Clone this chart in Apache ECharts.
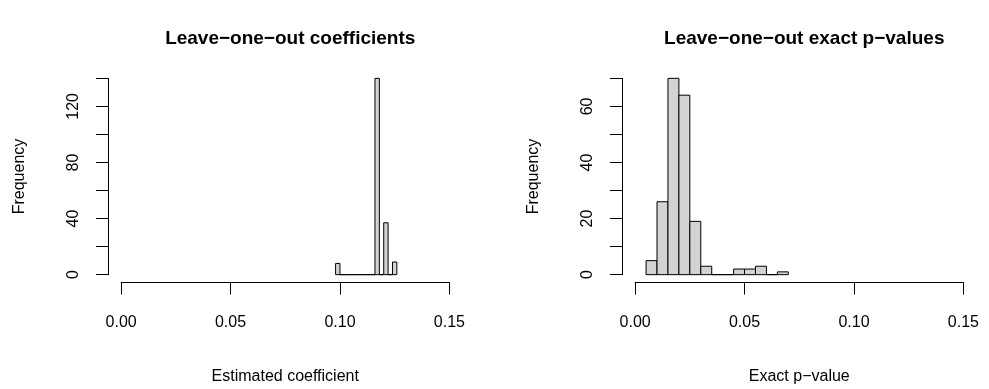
<!DOCTYPE html>
<html>
<head>
<meta charset="utf-8">
<script src="https://cdn.jsdelivr.net/npm/echarts@6/dist/echarts.min.js"></script>
<style>html,body{margin:0;padding:0;background:#fff}#c{width:989px;height:389px}</style>
</head>
<body>
<div id="c"></div>
<script>
// ---- data ----
const leftBreaks = [0.098,0.100,0.102,0.104,0.106,0.108,0.110,0.112,0.114,0.116,0.118,0.120,0.122,0.124,0.126];
const leftCounts = [8,0,0,0,0,0,0,0,0,140,0,37,0,9];
const rightBreaks = [0.005,0.010,0.015,0.020,0.025,0.030,0.035,0.040,0.045,0.050,0.055,0.060,0.065,0.070];
const rightCounts = [5,26,70,64,19,3,0,0,2,2,3,0,1];
const xTicks = [0, 0.05, 0.10, 0.15];
const leftTitle = 'Leave\u2212one\u2212out coefficients';
const rightTitle = 'Leave\u2212one\u2212out exact p\u2212values';
const leftXLabel = 'Estimated coefficient';
const rightXLabel = 'Exact p\u2212value';
const yLabel = 'Frequency';
const leftYMax = 140, leftYStep = 20, leftYLabelStep = 40;
const rightYMax = 70, rightYStep = 10, rightYLabelStep = 20;

function bins(breaks, counts){
  return counts.map((c,i)=>[breaks[i], breaks[i+1], c]);
}
const FONT = '"Liberation Sans", Arial, Helvetica, sans-serif';
const BLACK = '#000';

function renderItem(params, api){
  const p0 = api.coord([api.value(0), api.value(2)]);
  const p1 = api.coord([api.value(1), 0]);
  return {
    type:'rect',
    shape:{x:p0[0], y:p0[1], width:p1[0]-p0[0], height:p1[1]-p0[1]},
    style:{fill:'#D3D3D3', stroke:BLACK, lineWidth:1}
  };
}

// layout (pixels)
const plotW = 354.5, plotTop = 70.5, plotBottom = 282.5;
const pad = 0.006; // R's 4% extension of 0..0.15
const xSpanPx = plotW * 0.15 / (0.15 + 2*pad);
const padPx = plotW * pad / (0.15 + 2*pad);
const panels = [
  {left:108, breaks:leftBreaks, counts:leftCounts, ymax:leftYMax, ystep:leftYStep, ylab:leftYLabelStep, title:leftTitle, xlab:leftXLabel},
  {left:622, breaks:rightBreaks, counts:rightCounts, ymax:rightYMax, ystep:rightYStep, ylab:rightYLabelStep, title:rightTitle, xlab:rightXLabel}
];

const grid=[], xAxis=[], yAxis=[], series=[], title=[];
panels.forEach((p,k)=>{
  const yext = p.ymax*0.04;
  const hPx = plotBottom - plotTop;
  const yTopPx = plotTop + hPx*yext/(p.ymax+2*yext);
  const yZeroPx = plotBottom - hPx*yext/(p.ymax+2*yext);
  // plot region grid
  const g0 = grid.length;
  grid.push({left:p.left, top:plotTop, width:plotW, height:hPx});
  xAxis.push({gridIndex:g0, type:'value', min:-pad, max:0.15+pad, show:false});
  yAxis.push({gridIndex:g0, type:'value', min:-yext, max:p.ymax+yext, show:false});
  series.push({type:'custom', xAxisIndex:xAxis.length-1, yAxisIndex:yAxis.length-1,
    renderItem, encode:{x:[0,1], y:2}, data:bins(p.breaks,p.counts), silent:true, clip:false});
  // x-axis grid
  const g1 = grid.length;
  grid.push({left:p.left+padPx, top:plotBottom-30, width:xSpanPx, height:30});
  xAxis.push({gridIndex:g1, type:'value', min:xTicks[0], max:xTicks[xTicks.length-1], interval:0.05,
    position:'bottom',
    axisLine:{show:true, lineStyle:{color:BLACK, width:1}},
    axisTick:{show:true, length:12, inside:false, lineStyle:{color:BLACK, width:1}},
    axisLabel:{color:BLACK, fontFamily:FONT, fontSize:16, margin:32, formatter:v=>v.toFixed(2)},
    splitLine:{show:false},
    name:p.xlab, nameLocation:'middle', nameGap:86,
    nameTextStyle:{color:BLACK, fontFamily:FONT, fontSize:16}
  });
  yAxis.push({gridIndex:g1, type:'value', show:false});
  // y-axis grid
  const g2 = grid.length;
  grid.push({left:p.left, top:yTopPx, width:20, height:yZeroPx-yTopPx});
  xAxis.push({gridIndex:g2, type:'value', show:false});
  yAxis.push({gridIndex:g2, type:'value', min:0, max:p.ymax, interval:p.ystep, position:'left',
    axisLine:{show:true, lineStyle:{color:BLACK, width:1}},
    axisTick:{show:true, length:12, inside:false, lineStyle:{color:BLACK, width:1}},
    axisLabel:{color:BLACK, fontFamily:FONT, fontSize:16, rotate:90, margin:26,
      formatter:v=> (v % p.ylab === 0 ? String(v) : '')},
    splitLine:{show:false},
    name:yLabel, nameLocation:'middle', nameGap:80, nameRotate:90,
    nameTextStyle:{color:BLACK, fontFamily:FONT, fontSize:16}
  });
  title.push({text:p.title, left:p.left+plotW/2, top:24, textAlign:'center',
    textStyle:{color:BLACK, fontFamily:FONT, fontSize:19, fontWeight:'bold'}});
});

const chart = echarts.init(document.getElementById('c'), null, {renderer:'canvas'});
chart.setOption({animation:false, backgroundColor:'#fff', title, grid, xAxis, yAxis, series});
</script>
</body>
</html>
